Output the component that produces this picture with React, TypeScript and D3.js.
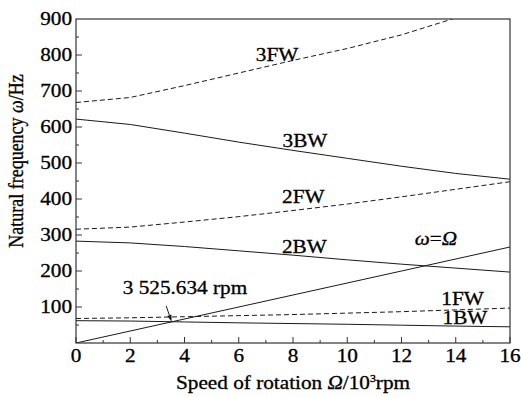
import React from "react";
import * as d3 from "d3";

// Speed of rotation (10^3 rpm)
const speed = [0, 2, 4, 6, 8, 10, 12, 14, 16];
// Natural frequencies (Hz)
const bw1 = [62, 61, 58.5, 56, 54, 52, 49.5, 47, 45];
const fw1 = [68, 70, 73, 76, 79, 83, 87, 92, 97];
const bw2 = [283, 278, 268, 256, 244, 231, 219, 208, 197];
const fw2 = [316, 322, 336, 351, 368, 386, 406, 427, 448];
const bw3 = [622, 607, 583, 558, 535, 513, 491, 471, 455];
const fw3 = [668, 682, 715, 750, 785, 818, 856, 903, 950];
// omega = Omega line endpoints (speed in 10^3 rpm -> Hz)
const syncSpeed = [0, 16];
const critSpeed = 3.525634;

const xTicks = [0, 2, 4, 6, 8, 10, 12, 14, 16];
const yTicks = [100, 200, 300, 400, 500, 600, 700, 800, 900];

const W = 521, H = 397;
const M = { left: 76, right: 510, top: 19, bottom: 343 };
const SX = 1.18;
const FS = 18;
const FONT = "'Liberation Serif', 'Times New Roman', serif";
const INK = "#1a1a1a";

function T({ x, y, anchor = "middle", children, size = FS }: any) {
  return (
    <g transform={`translate(${x},${y}) scale(${SX},1)`}>
      <text textAnchor={anchor} fontSize={size} fontFamily={FONT} fill="#000" stroke="#000" strokeWidth={0.3}>
        {children}
      </text>
    </g>
  );
}

export default function App() {
  const x = d3.scaleLinear().domain([0, 16]).range([M.left, M.right]);
  const y = d3.scaleLinear().domain([0, 900]).range([M.bottom, M.top]);
  const line = d3
    .line<number>()
    .x((_, i) => x(speed[i]))
    .y((d) => y(d));
  const hz = (s: number) => (s * 1000) / 60;

  const series = [
    { v: bw1, dash: false },
    { v: fw1, dash: true },
    { v: bw2, dash: false },
    { v: fw2, dash: true },
    { v: bw3, dash: false },
    { v: fw3, dash: true },
  ];

  const xMinor = d3.range(0, 17, 1);
  const yMinor = d3.range(50, 900, 50);

  // annotation arrow
  const tipX = x(critSpeed);
  const tipY = y(hz(critSpeed));
  const sx0 = tipX - 5.5, sy0 = tipY - 16;
  const ang = Math.atan2(tipY - sy0, tipX - sx0);
  const al = 7, aw = 2.2;
  const bx = tipX - al * Math.cos(ang), by = tipY - al * Math.sin(ang);
  const head = [
    [tipX, tipY],
    [bx + aw * Math.sin(ang), by - aw * Math.cos(ang)],
    [bx - aw * Math.sin(ang), by + aw * Math.cos(ang)],
  ];

  return (
    <svg width={W} height={H} style={{ position: "absolute", left: 0, top: 0, background: "#fff" }}>
      <defs>
        <clipPath id="plot">
          <rect x={M.left} y={M.top} width={M.right - M.left} height={M.bottom - M.top} />
        </clipPath>
      </defs>
      <rect x={0} y={0} width={W} height={H} fill="#fff" />
      <g clipPath="url(#plot)" fill="none" stroke={INK} strokeWidth={1}>
        {series.map((s, i) => (
          <path key={i} d={line(s.v) || ""} strokeDasharray={s.dash ? "5,3" : undefined} />
        ))}
        <path
          d={d3.line<number>().x((d) => x(d)).y((d) => y(hz(d)))(syncSpeed) || ""}
        />
      </g>
      {/* frame */}
      <rect
        x={M.left}
        y={M.top}
        width={M.right - M.left}
        height={M.bottom - M.top}
        fill="none"
        stroke="#333"
        strokeWidth={1.2}
      />
      {/* ticks */}
      <g stroke="#333" strokeWidth={1}>
        {xMinor.map((t) => (
          <line key={"xm" + t} x1={x(t)} x2={x(t)} y1={M.bottom} y2={M.bottom - (t % 2 === 0 ? 6 : 3)} />
        ))}
        {yMinor.map((t) => (
          <line key={"ym" + t} x1={M.left} x2={M.left + (t % 100 === 0 ? 6 : 3)} y1={y(t)} y2={y(t)} />
        ))}
      </g>
      {xTicks.map((t) => (
        <T key={"xt" + t} x={x(t)} y={362}>
          {t}
        </T>
      ))}
      {yTicks.map((t) => (
        <T key={"yt" + t} x={72} y={y(t) + 6} anchor="end">
          {t}
        </T>
      ))}
      {/* axis titles */}
      <T x={(M.left + M.right) / 2} y={389}>
        Speed of rotation <tspan fontStyle="italic">Ω</tspan>/10
        <tspan dy={-7} fontSize={10}>3</tspan>
        <tspan dy={7}>rpm</tspan>
      </T>
      <g transform={`translate(23,161) scale(${SX},1) rotate(-90)`}>
        <text textAnchor="middle" fontSize={FS} fontFamily={FONT} fill="#000" stroke="#000" strokeWidth={0.3}>
          Natural frequency <tspan fontStyle="italic">ω</tspan>/Hz
        </text>
      </g>
      {/* curve labels */}
      <T x={x(7.41)} y={y(783)}>3FW</T>
      <T x={x(8.44)} y={y(545)}>3BW</T>
      <T x={x(8.38)} y={y(389)}>2FW</T>
      <T x={x(8.42)} y={y(250)}>2BW</T>
      <T x={x(13.27)} y={y(273)}>
        <tspan fontStyle="italic">ω</tspan>=<tspan fontStyle="italic">Ω</tspan>
      </T>
      <T x={x(14.25)} y={y(106)}>1FW</T>
      <T x={x(14.34)} y={y(52)}>1BW</T>
      {/* annotation */}
      <T x={185} y={294}>3 525.634 rpm</T>
      <line x1={sx0} y1={sy0} x2={bx} y2={by} stroke={INK} strokeWidth={1} />
      <polygon points={head.map((p) => p.join(",")).join(" ")} fill={INK} />
    </svg>
  );
}
